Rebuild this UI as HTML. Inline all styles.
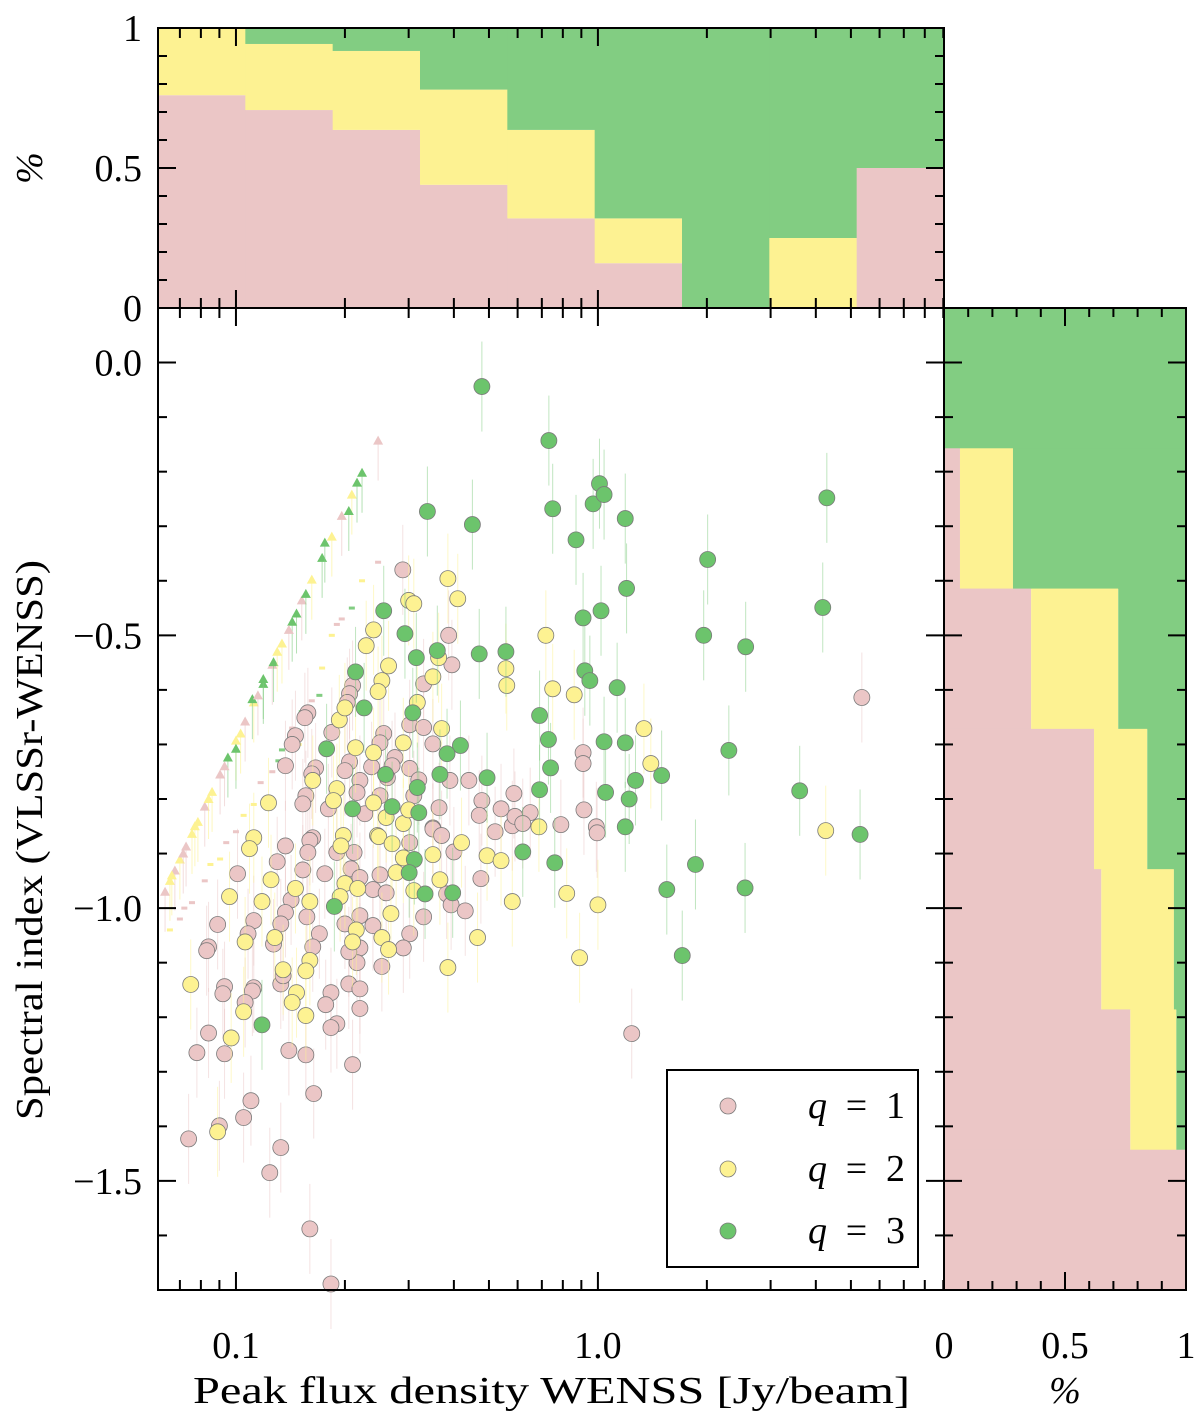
<!DOCTYPE html>
<html><head><meta charset="utf-8"><style>
html,body{margin:0;padding:0;background:#fff;}
svg{display:block;font-family:"Liberation Serif",serif;}
</style></head><body>
<svg id="c" width="1200" height="1416" xmlns="http://www.w3.org/2000/svg"></svg>
<script>
// ---- data ----
const histTopPink   = [0.76,0.707,0.636,0.44,0.32,0.16,0,0,0.5];
const histTopYellow = [0.24,0.236,0.282,0.34,0.316,0.16,0,0.25,0];
const histTopGreen  = [0,0.057,0.082,0.22,0.364,0.68,1,0.75,0.5];
const histRightPink   = [0,0.066,0.36,0.62,0.65,0.77,1];
const histRightYellow = [0,0.219,0.36,0.22,0.30,0.19,0];
const histRightGreen  = [1,0.715,0.28,0.16,0.05,0.04,0];

const q3Flux = [0.478,0.732,1.01,0.97,1.04,1.19,4.29,0.75,0.338,0.45,0.87,2.01,1.20,0.256,1.02,4.18,0.91,1.96,2.56,0.293,0.214,0.315,0.36,0.47,0.557,0.92,0.95,1.13,0.69,0.73,1.04,1.19,2.3,0.417,0.178,0.259,0.494,0.69,0.74,1.05,1.22,1.50,1.27,1.19,3.61,5.3,0.76,0.62,1.55,1.86,2.55,1.71,0.397,0.187,0.226,0.308,0.383,0.366,0.317,0.27,0.32,0.21,0.118,0.311,0.301,0.333];
const q3Alpha = [-0.044,-0.143,-0.222,-0.259,-0.242,-0.286,-0.248,-0.268,-0.273,-0.297,-0.325,-0.361,-0.414,-0.455,-0.455,-0.449,-0.468,-0.50,-0.521,-0.497,-0.567,-0.541,-0.528,-0.534,-0.53,-0.565,-0.583,-0.596,-0.647,-0.691,-0.695,-0.697,-0.711,-0.702,-0.708,-0.755,-0.761,-0.783,-0.743,-0.788,-0.80,-0.757,-0.766,-0.851,-0.785,-0.865,-0.917,-0.897,-0.966,-0.92,-0.963,-1.087,-0.972,-0.997,-0.633,-0.642,-0.717,-0.755,-0.779,-0.814,-0.825,-0.818,-1.214,-0.911,-0.935,-0.974];

const q2Flux = [0.385,0.41,0.3,0.718,0.557,0.75,0.56,0.86,1.34,1.40,0.687,0.494,0.54,0.82,1.0,0.58,0.89,0.465,0.385,4.26,0.42,0.31,0.24,0.229,0.264,0.253,0.247,0.363,0.35,0.317,0.193,0.2,0.214,0.24,0.29,0.37,0.163,0.19,0.186,0.123,0.24,0.26,0.29,0.30,0.112,0.246,0.109,0.125,0.096,0.118,0.146,0.16,0.198,0.195,0.2,0.194,0.217,0.215,0.21,0.253,0.264,0.248,0.27,0.29,0.277,0.31,0.268,0.35,0.366,0.128,0.106,0.135,0.16,0.156,0.147,0.143,0.156,0.105,0.097,0.075,0.089];
const q2Alpha = [-0.396,-0.433,-0.436,-0.5,-0.561,-0.598,-0.592,-0.609,-0.671,-0.735,-0.851,-0.904,-0.913,-0.973,-0.994,-0.988,-1.091,-1.054,-1.109,-0.858,-0.88,-0.442,-0.49,-0.519,-0.556,-0.583,-0.603,-0.541,-0.576,-0.623,-0.655,-0.633,-0.706,-0.715,-0.697,-0.671,-0.766,-0.781,-0.803,-0.807,-0.807,-0.834,-0.845,-0.82,-0.871,-0.867,-0.891,-0.948,-0.979,-0.988,-0.964,-0.988,-0.867,-0.886,-0.955,-0.979,-0.964,-1.04,-1.062,-1.054,-1.076,-0.869,-0.882,-0.908,-0.935,-0.968,-1.01,-0.902,-0.948,-1.054,-1.062,-1.113,-1.096,-1.115,-1.155,-1.173,-1.197,-1.19,-1.238,-1.14,-1.41];

const q1Flux = [0.289,0.387,0.395,0.33,0.21,0.206,0.203,0.158,0.155,0.146,0.143,0.184,0.137,0.302,0.33,0.35,0.256,0.25,0.275,0.27,0.262,0.302,0.237,0.206,0.2,0.166,0.162,0.156,0.153,0.22,0.216,0.25,0.227,0.364,0.39,0.31,0.32,0.18,0.35,0.163,0.137,0.16,0.158,0.13,0.153,0.101,0.176,0.19,0.212,0.208,0.22,0.239,0.26,0.25,0.302,0.35,0.37,0.40,0.382,0.393,0.33,0.302,0.29,0.253,0.22,0.216,0.239,0.22,0.2,0.205,0.17,0.163,0.157,0.142,0.137,0.133,0.127,0.112,0.108,0.089,0.084,0.083,0.133,0.135,0.112,0.111,0.106,0.093,0.092,0.205,0.22,0.183,0.177,0.19,0.183,0.22,0.084,0.078,0.093,0.14,0.156,0.21,0.164,0.11,0.105,0.09,0.074,0.133,0.124,0.16,0.183,5.36,1.24,0.478,0.58,0.59,0.65,0.586,0.44,0.915,0.91,0.91,0.99,0.995,0.79,0.475,0.43,0.54,0.52,0.47,0.62];
const q1Alpha = [-0.38,-0.50,-0.554,-0.589,-0.592,-0.607,-0.623,-0.642,-0.651,-0.684,-0.70,-0.678,-0.739,-0.664,-0.669,-0.699,-0.68,-0.697,-0.724,-0.739,-0.761,-0.744,-0.741,-0.732,-0.748,-0.743,-0.754,-0.794,-0.809,-0.766,-0.788,-0.794,-0.827,-0.816,-0.766,-0.794,-0.765,-0.818,-0.853,-0.871,-0.886,-0.876,-0.898,-0.915,-0.93,-0.937,-0.937,-0.898,-0.898,-0.928,-0.944,-0.966,-0.972,-0.939,-0.88,-0.855,-0.867,-0.897,-0.974,-0.994,-1.016,-1.047,-1.073,-1.107,-1.073,-1.1,-1.032,-1.014,-1.029,-1.08,-1.047,-1.071,-1.016,-0.985,-1.008,-1.029,-1.066,-1.023,-1.047,-1.03,-1.071,-1.078,-1.139,-1.124,-1.146,-1.152,-1.173,-1.144,-1.157,-1.139,-1.148,-1.155,-1.177,-1.212,-1.219,-1.184,-1.229,-1.265,-1.267,-1.261,-1.269,-1.287,-1.34,-1.353,-1.384,-1.399,-1.423,-1.439,-1.485,-1.588,-1.689,-0.614,-1.23,-0.803,-0.849,-0.832,-0.825,-0.79,-0.766,-0.82,-0.715,-0.735,-0.851,-0.862,-0.847,-0.946,-1.005,-0.818,-0.86,-0.83,-0.845];

const limFlux  = [0.0637,0.0657,0.0678,0.070,0.0728,0.0756,0.0785,0.082,0.0859,0.0904,0.095,0.1,0.106,0.112,0.119,0.126,0.134,0.143,0.152,0.162,0.173,0.184,0.196,0.209,0.223,0.247,0.216,0.205,0.176,0.156,0.147,0.127,0.119,0.111,0.1,0.0665,0.0715,0.077,0.084,0.093,0.103,0.115,0.13,0.14];
const limAlpha = [-0.970,-0.950,-0.931,-0.911,-0.887,-0.864,-0.842,-0.814,-0.787,-0.755,-0.724,-0.693,-0.658,-0.623,-0.589,-0.554,-0.515,-0.475,-0.436,-0.398,-0.358,-0.319,-0.281,-0.242,-0.202,-0.143,-0.220,-0.272,-0.330,-0.424,-0.460,-0.549,-0.580,-0.617,-0.708,-0.94,-0.90,-0.85,-0.80,-0.74,-0.68,-0.61,-0.53,-0.49];
const limQ      = [1,2,1,2,1,2,2,1,2,1,3,2,1,2,3,1,2,3,1,2,3,2,1,2,3,1,3,3,3,3,3,3,3,3,3,2,1,2,2,1,2,1,2,1];
const dashFlux  = [0.0657,0.070,0.0756,0.082,0.0904,0.1,0.112,0.126,0.134,0.143,0.152,0.162,0.173,0.184,0.196,0.209,0.223,0.247,0.072,0.085,0.094,0.105,0.117,0.131,0.149,0.17,0.19];
const dashAlpha = [-1.04,-1.02,-0.99,-0.95,-0.91,-0.86,-0.81,-0.75,-0.71,-0.67,-0.64,-0.62,-0.56,-0.50,-0.47,-0.45,-0.40,-0.366,-1.0,-0.92,-0.88,-0.83,-0.77,-0.73,-0.70,-0.61,-0.48];
const dashQ     = [2,1,1,1,2,1,2,1,3,1,3,1,2,2,1,3,2,1,1,2,1,2,1,3,2,3,1];

const xTickLabels = ["0.1","1.0"];
const xTickValues = [0.1,1.0];
const yTickValues = [0.0,-0.5,-1.0,-1.5];
const yTickLabels = ["0.0","−0.5","−1.0","−1.5"];
const pctTickValues = [0,0.5,1];
const pctTickLabels = ["0","0.5","1"];

// ---- geometry ----
const X0=158,X1=944,Y0=308,Y1=1290,TY0=28,RX1=1186;
const LXMIN=Math.log10(0.0609),LXMAX=Math.log10(9.04);
const AMAX=0.1,AMIN=-1.7;
const xs=v=>X0+(Math.log10(v)-LXMIN)/(LXMAX-LXMIN)*(X1-X0);
const ys=a=>Y0+(AMAX-a)/(AMAX-AMIN)*(Y1-Y0);
const tys=p=>Y0-p*(Y0-TY0);
const rxs=p=>X1+p*(RX1-X1);
const COL={1:"#ebc6c6",2:"#fdf292",3:"#82cd82"};
const svg=document.getElementById('c');
const NS="http://www.w3.org/2000/svg";
function mk(tag,attrs,parent){const e=document.createElementNS(NS,tag);for(const k in attrs)e.setAttribute(k,attrs[k]);(parent||svg).appendChild(e);return e;}

// top histogram
const gTop=mk('g',{});


const nb=histTopPink.length;
for(let i=0;i<nb;i++){
  const l=LXMIN+(LXMAX-LXMIN)*i/nb, r=LXMIN+(LXMAX-LXMIN)*(i+1)/nb;
  const xl=X0+(l-LXMIN)/(LXMAX-LXMIN)*(X1-X0), xr=X0+(r-LXMIN)/(LXMAX-LXMIN)*(X1-X0);
  let base=0;
  [[histTopPink[i],1],[histTopYellow[i],2],[histTopGreen[i],3]].forEach(([v,q])=>{
    if(v<=0)return;
    const top=Math.min(1,base+v);
    const rc=mk('rect',{x:xl,y:tys(top),width:xr-xl+0.5,height:tys(base)-tys(top),fill:COL[q]},gTop);
    
    
    base=top;
  });
}
// right histogram
const gR=mk('g',{});


const nr=histRightPink.length;
for(let i=0;i<nr;i++){
  const at=AMAX-(AMAX-AMIN)*i/nr, ab=AMAX-(AMAX-AMIN)*(i+1)/nr;
  const yt=ys(at), yb=ys(ab);
  let base=0;
  [[histRightPink[i],1],[histRightYellow[i],2],[histRightGreen[i],3]].forEach(([v,q])=>{
    if(v<=0)return;
    const end=Math.min(1,base+v);
    const rc=mk('rect',{x:rxs(base),y:yt,width:rxs(end)-rxs(base),height:yb-yt+0.5,fill:COL[q]},gR);
    
    
    base=end;
  });
}

// scatter
const gS=mk('g',{});


for(let i=0;i<dashFlux.length;i++){
  const x=xs(dashFlux[i]),y=ys(dashAlpha[i]);
  const d=mk('rect',{x:x-3,y:y-1.5,width:6,height:3,fill:COL[dashQ[i]]},gS);
  
  
}
for(let i=0;i<limFlux.length;i++){
  const x=xs(limFlux[i]),y=ys(limAlpha[i]);
  mk('line',{x1:x,y1:y,x2:x,y2:y+40,stroke:COL[limQ[i]],'stroke-width':1,opacity:0.6},gS);
  const t=mk('polygon',{points:`${x-5},${y+4} ${x+5},${y+4} ${x},${y-5}`,fill:limQ[i]==3?"#6cc46c":COL[limQ[i]]},gS);
  
  
}
function drawSeries(fx,al,q){
  for(let i=0;i<fx.length;i++){
    const x=xs(fx[i]),y=ys(al[i]);
    mk('line',{x1:x,y1:y-45,x2:x,y2:y+45,stroke:COL[q],'stroke-width':1,opacity:0.5},gS);
  }
  for(let i=0;i<fx.length;i++){
    const x=xs(fx[i]),y=ys(al[i]);
    const c=mk('circle',{cx:x,cy:y,r:8,fill:q==3?"#6cc46c":COL[q],stroke:"#7a7a7a",'stroke-width':0.8},gS);
    
    
  }
}
drawSeries(q1Flux,q1Alpha,1);
drawSeries(q2Flux,q2Alpha,2);
drawSeries(q3Flux,q3Alpha,3);

// frames
const gA=mk('g',{stroke:"#000",'stroke-width':2,fill:"none"});


mk('rect',{x:X0,y:Y0,width:X1-X0,height:Y1-Y0},gA);
mk('polyline',{points:`${X0},${Y0} ${X0},${TY0} ${X1},${TY0} ${X1},${Y0}`},gA);
mk('polyline',{points:`${X1},${Y0} ${RX1},${Y0} ${RX1},${Y1} ${X1},${Y1}`},gA);
function tick(x1,y1,x2,y2){mk('line',{x1,y1,x2,y2},gA);}
for(let d=-2;d<=0;d++){for(let m=1;m<=9;m++){
  const v=m*Math.pow(10,d); const lv=Math.log10(v);
  if(lv<LXMIN||lv>LXMAX)continue;
  const x=xs(v), L=(m==1)?18:10;
  tick(x,Y1,x,Y1-L); tick(x,Y0,x,Y0+L); tick(x,Y0,x,Y0-L); tick(x,TY0,x,TY0+L);
}}
for(let k=-17;k<=1;k++){
  const a=k/10, y=ys(a), major=(k%5==0), L=major?18:9;
  tick(X0,y,X0+L,y); tick(X1,y,X1-L,y); tick(X1,y,X1+L,y); tick(RX1,y,RX1-L,y);
}
for(let k=0;k<=10;k++){
  const y=tys(k/10),L=(k%5==0)?18:9;
  tick(X0,y,X0+L,y); tick(X1,y,X1-L,y);
}
for(let k=0;k<=10;k++){
  const x=rxs(k/10),L=(k%5==0)?18:9;
  tick(x,Y1,x,Y1-L); tick(x,Y0,x,Y0+L);
}

// labels
function txt(s,x,y,attrs,name){const t=mk('text',Object.assign({x,y,'font-size':38,fill:"#000"},attrs||{}));t.textContent=s;
  
  return t;}
xTickValues.forEach((v,i)=>txt(xTickLabels[i],xs(v),1358,{'text-anchor':'middle'},'x-tick-label'));
yTickValues.forEach((v,i)=>txt(yTickLabels[i],142,ys(v)+13,{'text-anchor':'end'},'y-tick-label'));
pctTickValues.forEach((v,i)=>txt(pctTickLabels[i],142,tys(v)+13,{'text-anchor':'end'},'top-pct-tick-label'));
pctTickValues.forEach((v,i)=>txt(pctTickLabels[i],rxs(v),1358,{'text-anchor':'middle'},'right-pct-tick-label'));
txt("Peak flux density WENSS [Jy/beam]",193,1403,{textLength:717,lengthAdjust:'spacingAndGlyphs'},'x-axis-title');
txt("%",1065,1403,{'text-anchor':'middle','font-style':'italic'},'right-pct-axis-title');
txt("Spectral index (VLSSr-WENSS)",-1120,42,{textLength:560,lengthAdjust:'spacingAndGlyphs',transform:'rotate(-90)'},'y-axis-title');
txt("%",42,168,{'text-anchor':'middle','font-style':'italic',transform:'rotate(-90 42 168)'},'top-pct-axis-title');

// legend
const gL=mk('g',{});


mk('rect',{x:667,y:1070,width:251,height:197,fill:"#fff",stroke:"#000",'stroke-width':2},gL);
[[1,1106],[2,1169],[3,1231]].forEach(([q,y])=>{
  const c=mk('circle',{cx:728,cy:y,r:8,fill:q==3?"#6cc46c":COL[q],stroke:"#7a7a7a",'stroke-width':0.8},gL);
  
  
  const t=mk('text',{x:808,y:y+12,'font-size':38,textLength:97,lengthAdjust:'spacing'},gL);
  
  
  t.innerHTML='<tspan font-style="italic">q</tspan> = '+q;
});
</script>
</body></html>
